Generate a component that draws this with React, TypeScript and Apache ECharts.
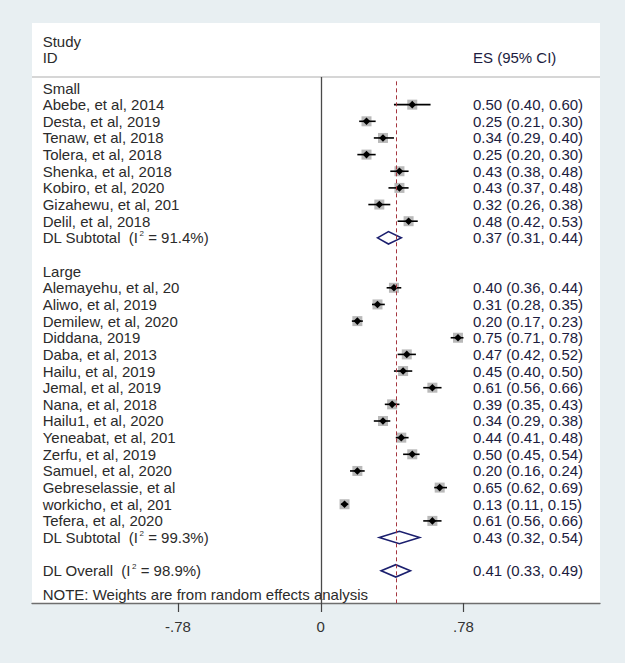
import React, { useEffect, useRef } from "react";
import * as echarts from "echarts";

// ---------- data ----------
const smallStudies = [
  "Abebe, et al, 2014",
  "Desta, et al, 2019",
  "Tenaw, et al, 2018",
  "Tolera, et al, 2018",
  "Shenka, et al, 2018",
  "Kobiro, et al, 2020",
  "Gizahewu, et al, 201",
  "Delil, et al, 2018",
];
const smallES = [0.5, 0.25, 0.34, 0.25, 0.43, 0.43, 0.32, 0.48];
const smallLo = [0.4, 0.21, 0.29, 0.2, 0.38, 0.37, 0.26, 0.42];
const smallHi = [0.6, 0.3, 0.4, 0.3, 0.48, 0.48, 0.38, 0.53];

const largeStudies = [
  "Alemayehu, et al, 20",
  "Aliwo, et al, 2019",
  "Demilew, et al, 2020",
  "Diddana, 2019",
  "Daba, et al, 2013",
  "Hailu, et al, 2019",
  "Jemal, et al, 2019",
  "Nana, et al, 2018",
  "Hailu1, et al, 2020",
  "Yeneabat, et al, 201",
  "Zerfu, et al, 2019",
  "Samuel, et al, 2020",
  "Gebreselassie, et al",
  "workicho, et al, 201",
  "Tefera, et al, 2020",
];
const largeES = [0.4, 0.31, 0.2, 0.75, 0.47, 0.45, 0.61, 0.39, 0.34, 0.44, 0.5, 0.2, 0.65, 0.13, 0.61];
const largeLo = [0.36, 0.28, 0.17, 0.71, 0.42, 0.4, 0.56, 0.35, 0.29, 0.41, 0.45, 0.16, 0.62, 0.11, 0.56];
const largeHi = [0.44, 0.35, 0.23, 0.78, 0.52, 0.5, 0.66, 0.43, 0.38, 0.48, 0.54, 0.24, 0.69, 0.15, 0.66];

const pooledLabels = ["DL Subtotal", "DL Subtotal", "DL Overall"];
const pooledI2 = ["91.4%", "99.3%", "98.9%"];
const pooledES = [0.37, 0.43, 0.41];
const pooledLo = [0.31, 0.32, 0.33];
const pooledHi = [0.44, 0.54, 0.49];

const groupNames = ["Small", "Large"];
const tickValues = [-0.78, 0, 0.78];
const tickLabels = ["-.78", "0", ".78"];
const overallES = 0.41;
const noteText = "NOTE: Weights are from random effects analysis";

// ---------- layout constants ----------
const X_MIN = -1.578;
const X_MAX = 1.526;
const Y_MIN = -3.904;
const Y_MAX = 30.931;
const FONT = '15px "Liberation Sans", Arial, sans-serif';
const LEFT_COLOR = "#2b2b2b";
const RIGHT_COLOR = "#1c1c40";

const fmt = (v: number) => v.toFixed(2);

type Row = {
  r: number;
  kind: "text" | "study" | "pooled";
  label?: string;
  i2?: string;
  right?: string;
  es?: number;
  lo?: number;
  hi?: number;
};

function buildRows(): Row[] {
  const rows: Row[] = [];
  rows.push({ r: -2.82, kind: "text", label: "Study" });
  rows.push({ r: -1.86, kind: "text", label: "ID", right: "ES (95% CI)" });
  let r = 0;
  const groups = [
    { s: smallStudies, e: smallES, l: smallLo, h: smallHi },
    { s: largeStudies, e: largeES, l: largeLo, h: largeHi },
  ];
  groups.forEach((g, gi) => {
    rows.push({ r, kind: "text", label: groupNames[gi] });
    r += 1;
    g.s.forEach((name, i) => {
      rows.push({
        r,
        kind: "study",
        label: name,
        es: g.e[i],
        lo: g.l[i],
        hi: g.h[i],
        right: `${fmt(g.e[i])} (${fmt(g.l[i])}, ${fmt(g.h[i])})`,
      });
      r += 1;
    });
    rows.push({
      r,
      kind: "pooled",
      label: pooledLabels[gi],
      i2: pooledI2[gi],
      es: pooledES[gi],
      lo: pooledLo[gi],
      hi: pooledHi[gi],
      right: `${fmt(pooledES[gi])} (${fmt(pooledLo[gi])}, ${fmt(pooledHi[gi])})`,
    });
    r += 2;
  });
  rows.push({
    r,
    kind: "pooled",
    label: pooledLabels[2],
    i2: pooledI2[2],
    es: pooledES[2],
    lo: pooledLo[2],
    hi: pooledHi[2],
    right: `${fmt(pooledES[2])} (${fmt(pooledLo[2])}, ${fmt(pooledHi[2])})`,
  });
  rows.push({ r: r + 1.45, kind: "text", label: noteText });
  return rows;
}

export default function App() {
  const ref = useRef<HTMLDivElement>(null);

  useEffect(() => {
    if (!ref.current) return;
    const chart = echarts.init(ref.current, undefined, { renderer: "svg" });
    const rows = buildRows();

    const option: any = {
      animation: false,
      backgroundColor: "#e8eff2",
      grid: {
        show: true,
        backgroundColor: "#ffffff",
        borderWidth: 0,
        left: 32,
        right: 25,
        top: 23,
        bottom: 60,
      },
      xAxis: {
        type: "value",
        min: X_MIN,
        max: X_MAX,
        position: "bottom",
        splitLine: { show: false },
        axisLine: { show: true, onZero: false, lineStyle: { color: "#6e6e6e", width: 1.3 } },
        axisTick: {
          show: true,
          customValues: tickValues,
          length: 9,
          lineStyle: { color: "#444", width: 1.2 },
        },
        axisLabel: {
          show: true,
          customValues: tickValues,
          margin: 16,
          color: "#333",
          fontSize: 15,
          fontFamily: '"Liberation Sans", Arial, sans-serif',
          formatter: (v: number) => {
            const idx = tickValues.findIndex((t) => Math.abs(t - v) < 1e-6);
            return idx >= 0 ? tickLabels[idx] : "";
          },
        },
      },
      yAxis: {
        type: "value",
        min: Y_MIN,
        max: Y_MAX,
        inverse: true,
        show: false,
      },
      series: [
        {
          type: "line",
          data: [],
          silent: true,
          markLine: {
            symbol: "none",
            silent: true,
            label: { show: false },
            data: [
              [
                { coord: [X_MIN, -0.66], lineStyle: { color: "#c9c9c9", width: 1.5, type: "solid" } },
                { coord: [X_MAX, -0.66] },
              ],
              [
                { coord: [0, -0.66], lineStyle: { color: "#4a4a4a", width: 1.3, type: "solid" } },
                { coord: [0, Y_MAX] },
              ],
              [
                { coord: [overallES, -0.4], lineStyle: { color: "#a5363f", width: 1, type: [4, 3] } },
                { coord: [overallES, Y_MAX] },
              ],
            ],
          },
        },
        {
          type: "custom",
          data: rows.map((row) => [row.es ?? 0, row.r, row.lo ?? 0, row.hi ?? 0]),
          renderItem: (params: any, api: any) => {
            const row = rows[params.dataIndex];
            const cs = params.coordSys;
            const y = api.coord([0, api.value(1)])[1];
            const leftX = cs.x + 10.7;
            const rightX = cs.x + 441;
            const children: any[] = [];

            if (row.kind === "study") {
              const xc = api.coord([api.value(0), row.r])[0];
              const x0 = api.coord([api.value(2), row.r])[0];
              const x1 = api.coord([api.value(3), row.r])[0];
              children.push({
                type: "rect",
                shape: { x: xc - 5, y: y - 5, width: 10, height: 10 },
                style: { fill: "#b9b9b9" },
              });
              children.push({
                type: "line",
                shape: { x1: x0, y1: y, x2: x1, y2: y },
                style: { stroke: "#000", lineWidth: 1.6 },
              });
              children.push({
                type: "polygon",
                shape: {
                  points: [
                    [xc - 3.8, y],
                    [xc, y - 3.8],
                    [xc + 3.8, y],
                    [xc, y + 3.8],
                  ],
                },
                style: { fill: "#000" },
              });
            }
            if (row.kind === "pooled") {
              const xc = api.coord([api.value(0), row.r])[0];
              const x0 = api.coord([api.value(2), row.r])[0];
              const x1 = api.coord([api.value(3), row.r])[0];
              children.push({
                type: "polygon",
                shape: {
                  points: [
                    [x0, y],
                    [xc, y - 6.2],
                    [x1, y],
                    [xc, y + 6.2],
                  ],
                },
                style: { fill: "#ffffff", stroke: "#1b1f6e", lineWidth: 1.6 },
              });
            }
            if (row.label) {
              if (row.i2) {
                children.push({
                  type: "text",
                  x: leftX,
                  y,
                  style: {
                    text: `{a|${row.label}  (I}{s|2}{a| = ${row.i2})}`,
                    verticalAlign: "middle",
                    align: "left",
                    rich: {
                      a: { font: FONT, fill: LEFT_COLOR, lineHeight: 16 },
                      s: {
                        font: '8px "Liberation Sans", Arial, sans-serif',
                        fill: LEFT_COLOR,
                        verticalAlign: "top",
                        padding: [0, 0, 0, 1],
                      },
                    },
                  },
                });
              } else {
                children.push({
                  type: "text",
                  x: leftX,
                  y,
                  style: {
                    text: row.label,
                    font: FONT,
                    fill: LEFT_COLOR,
                    verticalAlign: "middle",
                    align: "left",
                  },
                });
              }
            }
            if (row.right) {
              children.push({
                type: "text",
                x: rightX,
                y,
                style: {
                  text: row.right,
                  font: FONT,
                  fill: RIGHT_COLOR,
                  verticalAlign: "middle",
                  align: "left",
                },
              });
            }
            return { type: "group", children };
          },
        },
      ],
    };

    chart.setOption(option);
    return () => chart.dispose();
  }, []);

  return (
    <div
      ref={ref}
      style={{ position: "absolute", left: 0, top: 0, width: 625, height: 663 }}
    />
  );
}
